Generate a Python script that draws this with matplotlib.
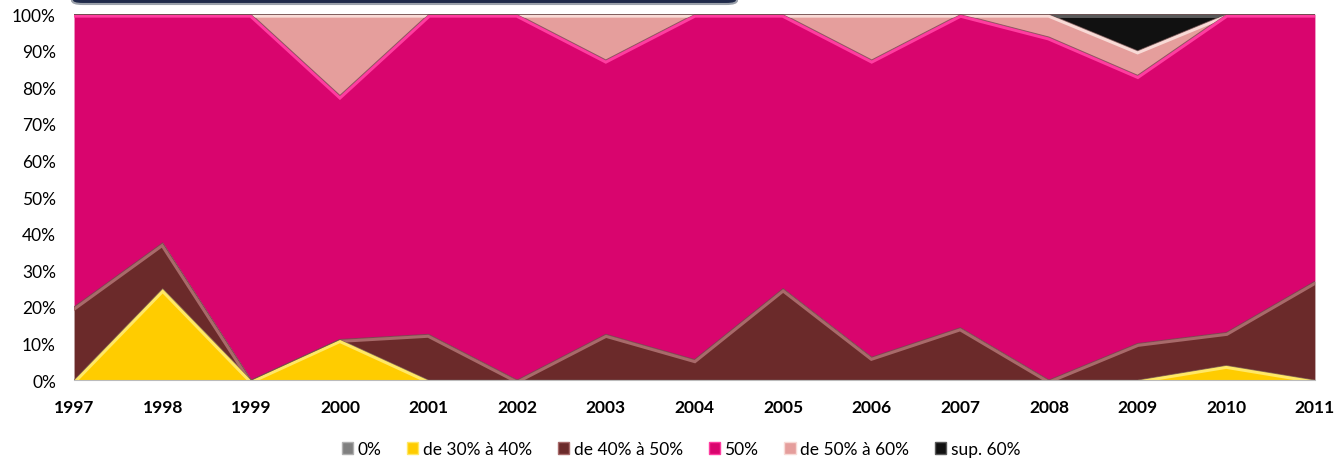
import numpy as np
import matplotlib.pyplot as plt
from matplotlib.patches import FancyBboxPatch, Patch
from matplotlib.ticker import PercentFormatter

years = [1997, 1998, 1999, 2000, 2001, 2002, 2003, 2004, 2005, 2006, 2007, 2008, 2009, 2010, 2011]
labels = ['0%', 'de 30% à 40%', 'de 40% à 50%', '50%', 'de 50% à 60%', 'sup. 60%']

s_0 = [0, 0, 0, 0, 0, 0, 0, 0, 0, 0, 0, 0, 0, 0, 0]
s_30_40 = [0, 25, 0, 11.1, 0, 0, 0, 0, 0, 0, 0, 0, 0, 4, 0]
s_40_50 = [20, 12.5, 0, 0, 12.5, 0, 12.5, 5.6, 25, 6.25, 14.3, 0, 10, 9, 27]
s_50 = [80, 62.5, 100, 66.7, 87.5, 100, 75, 94.4, 75, 81.25, 85.7, 93.75, 73.3, 87, 73]
s_50_60 = [0, 0, 0, 22.2, 0, 0, 12.5, 0, 0, 12.5, 0, 6.25, 6.7, 0, 0]
s_sup60 = [0, 0, 0, 0, 0, 0, 0, 0, 0, 0, 0, 0, 10, 0, 0]

colors = ['#808080', '#FFCC00', '#6B2A2A', '#D9056E', '#E59E9C', '#111111']
highlights = ['#B0B0B0', '#FFE866', '#A86A6A', '#FF3DA0', '#F8DAD6', '#5A5A5A']

plt.rcParams['font.family'] = ['Lato', 'DejaVu Sans']

fig = plt.figure(figsize=(13.39, 4.6), dpi=100)
ax = fig.add_axes([0.0553, 0.1717, 0.9267, 0.7953])

series = [s_0, s_30_40, s_40_50, s_50, s_50_60, s_sup60]
x = np.array(years)
base = np.zeros(len(years))
for vals, c, h in zip(series, colors, highlights):
    top = base + np.array(vals)
    if max(vals) > 0:
        poly = ax.fill_between(x, base, top, color=c, linewidth=0)
        # bevel-ish highlight along the top edge, kept inside the band
        ln, = ax.plot(x, top, color=h, linewidth=5, solid_joinstyle='miter')
        ln.set_clip_path(poly.get_paths()[0], poly.get_transform())
        ax.plot(x, top, color='#6A4848', linewidth=0.7, alpha=0.7)
    base = top

ax.set_xlim(1997, 2011)
ax.set_ylim(0, 100)
ax.set_xticks(years)
ax.set_xticklabels([str(y) for y in years], fontweight='bold', fontsize=12.5)
ax.set_yticks(range(0, 101, 10))
ax.yaxis.set_major_formatter(PercentFormatter(decimals=0))
ax.tick_params(axis='y', labelsize=12.5, length=0, pad=13)
ax.tick_params(axis='x', length=0, pad=14)
for sp in ['left', 'right', 'top']:
    ax.spines[sp].set_visible(False)
ax.spines['bottom'].set_color('#BBBBBB')

handles = [Patch(facecolor=c, edgecolor=h, linewidth=1) for c, h in zip(colors, highlights)]
fig.legend(handles, labels, loc='center', bbox_to_anchor=(0.5085, 0.022), ncol=6,
           frameon=False, fontsize=12.5, handlelength=0.65, handleheight=0.65,
           handletextpad=0.25, columnspacing=1.5)

# cut-off title box at the top
box = FancyBboxPatch((72 / 1339, 1 - 5 / 460), (737 - 72) / 1339, 0.05,
                     boxstyle='round,pad=0,rounding_size=0.008',
                     transform=fig.transFigure, facecolor='#1F2A4A',
                     edgecolor='#9AA0AA', linewidth=1.5, clip_on=False)
fig.patches.append(box)

fig.savefig('out.png', dpi=100)
